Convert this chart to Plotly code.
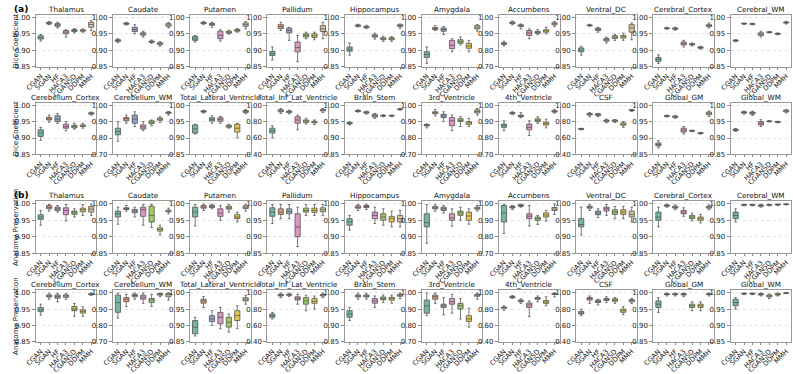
import plotly.graph_objects as go

METHODS = ["CGAN", "SGAN", "HF", "HACA3", "CGANSD", "DDPM", "MMH"]
COLORS = ["#72b7a1", "#e99675", "#95a3c3", "#dc96c1", "#a2c864", "#e5c849", "#dbc29e"]

REGIONS = ["Thalamus", "Caudate", "Putamen", "Pallidum", "Hippocampus", "Amygdala",
           "Accumbens", "Ventral_DC", "Cerebral_Cortex", "Cerebral_WM",
           "Cerebellum_Cortex", "Cerebellum_WM", "Total_Lateral_Ventricle",
           "Total_Inf_Lat_Ventricle", "Brain_Stem", "3rd_Ventricle", "4th_Ventricle",
           "CSF", "Global_GM", "Global_WM"]

# ---- (a) Dice Coefficient ----
dice_ymin = {"Accumbens": 0.70, "Cerebellum_WM": 0.70, "Total_Inf_Lat_Ventricle": 0.40,
             "3rd_Ventricle": 0.70, "4th_Ventricle": 0.70, "CSF": 0.40}

dice_med = {
    "Thalamus": [.938, .983, .977, .955, .960, .960, .978],
    "Caudate": [.930, .981, .963, .950, .926, .920, .977],
    "Putamen": [.935, .983, .979, .945, .955, .961, .978],
    "Pallidum": [.890, .972, .960, .908, .945, .944, .965],
    "Hippocampus": [.903, .975, .971, .944, .935, .935, .975],
    "Amygdala": [.887, .966, .963, .915, .926, .913, .970],
    "Accumbens": [.840, .967, .950, .905, .910, .917, .962],
    "Ventral_DC": [.900, .976, .964, .932, .940, .941, .968],
    "Cerebral_Cortex": [.872, .967, .966, .920, .918, .908, .975],
    "Cerebral_WM": [.929, .981, .980, .949, .955, .950, .984],
    "Cerebellum_Cortex": [.915, .958, .958, .935, .935, .937, .975],
    "Cerebellum_WM": [.840, .918, .915, .868, .897, .915, .955],
    "Total_Lateral_Ventricle": [.928, .981, .957, .957, .936, .930, .981],
    "Total_Inf_Lat_Ventricle": [.690, .934, .920, .820, .810, .795, .940],
    "Brain_Stem": [.945, .982, .978, .968, .968, .968, .988],
    "3rd_Ventricle": [.878, .955, .935, .905, .908, .893, .962],
    "4th_Ventricle": [.875, .952, .935, .865, .908, .888, .962],
    "CSF": [.710, .890, .885, .810, .810, .770, .940],
    "Global_GM": [.880, .967, .965, .924, .922, .915, .975],
    "Global_WM": [.925, .978, .976, .945, .951, .949, .982],
}
dice_q1 = {
    "Thalamus": [.934, .980, .973, .950, .957, .958, .970],
    "Caudate": [.927, .979, .957, .946, .924, .917, .973],
    "Putamen": [.930, .981, .976, .935, .952, .958, .973],
    "Pallidum": [.884, .966, .953, .895, .940, .939, .957],
    "Hippocampus": [.897, .973, .969, .940, .932, .932, .972],
    "Amygdala": [.878, .963, .958, .905, .921, .906, .965],
    "Accumbens": [.835, .962, .945, .890, .903, .910, .955],
    "Ventral_DC": [.895, .975, .960, .928, .936, .937, .955],
    "Cerebral_Cortex": [.866, .966, .964, .916, .916, .906, .972],
    "Cerebral_WM": [.928, .980, .979, .945, .954, .949, .983],
    "Cerebellum_Cortex": [.905, .955, .950, .930, .931, .935, .973],
    "Cerebellum_WM": [.820, .905, .890, .855, .887, .908, .950],
    "Total_Lateral_Ventricle": [.915, .979, .952, .951, .933, .918, .978],
    "Total_Inf_Lat_Ventricle": [.660, .920, .910, .780, .790, .785, .930],
    "Brain_Stem": [.943, .981, .976, .964, .967, .967, .987],
    "3rd_Ventricle": [.874, .948, .925, .875, .900, .883, .953],
    "4th_Ventricle": [.865, .948, .930, .850, .900, .879, .958],
    "CSF": [.705, .880, .875, .800, .800, .755, .935],
    "Global_GM": [.876, .966, .963, .918, .921, .914, .971],
    "Global_WM": [.923, .976, .973, .940, .950, .948, .980],
}
dice_q3 = {
    "Thalamus": [.944, .985, .981, .960, .963, .962, .985],
    "Caudate": [.932, .983, .970, .953, .928, .923, .981],
    "Putamen": [.942, .985, .982, .958, .958, .963, .983],
    "Pallidum": [.896, .978, .967, .925, .950, .950, .975],
    "Hippocampus": [.910, .977, .973, .947, .938, .938, .978],
    "Amygdala": [.895, .969, .968, .930, .932, .921, .975],
    "Accumbens": [.846, .972, .955, .920, .915, .925, .967],
    "Ventral_DC": [.907, .977, .967, .936, .944, .945, .978],
    "Cerebral_Cortex": [.878, .968, .968, .925, .920, .910, .978],
    "Cerebral_WM": [.931, .982, .981, .953, .956, .951, .986],
    "Cerebellum_Cortex": [.925, .963, .968, .942, .939, .940, .977],
    "Cerebellum_WM": [.860, .925, .940, .880, .905, .922, .958],
    "Total_Lateral_Ventricle": [.940, .983, .962, .962, .939, .942, .984],
    "Total_Inf_Lat_Ventricle": [.720, .945, .930, .860, .820, .805, .950],
    "Brain_Stem": [.947, .984, .980, .972, .969, .969, .989],
    "3rd_Ventricle": [.882, .960, .945, .925, .918, .900, .972],
    "4th_Ventricle": [.885, .956, .940, .885, .917, .897, .967],
    "CSF": [.715, .900, .895, .820, .820, .785, .945],
    "Global_GM": [.885, .968, .967, .930, .923, .916, .979],
    "Global_WM": [.927, .980, .979, .950, .952, .950, .985],
}
dice_lo = {
    "Thalamus": [.928, .978, .968, .940, .953, .955, .960],
    "Caudate": [.923, .977, .950, .940, .921, .912, .968],
    "Putamen": [.925, .979, .970, .928, .949, .955, .965],
    "Pallidum": [.870, .960, .930, .865, .935, .932, .935],
    "Hippocampus": [.885, .971, .966, .934, .927, .927, .967],
    "Amygdala": [.860, .960, .948, .895, .916, .895, .958],
    "Accumbens": [.825, .955, .930, .870, .895, .900, .945],
    "Ventral_DC": [.885, .973, .955, .922, .930, .930, .932],
    "Cerebral_Cortex": [.860, .964, .961, .910, .913, .903, .968],
    "Cerebral_WM": [.926, .979, .977, .940, .953, .947, .980],
    "Cerebellum_Cortex": [.893, .948, .945, .922, .927, .930, .970],
    "Cerebellum_WM": [.780, .890, .870, .845, .875, .895, .940],
    "Total_Lateral_Ventricle": [.912, .976, .945, .945, .930, .900, .974],
    "Total_Inf_Lat_Ventricle": [.600, .900, .895, .700, .770, .765, .910],
    "Brain_Stem": [.940, .979, .973, .960, .965, .965, .985],
    "3rd_Ventricle": [.862, .935, .900, .845, .870, .870, .940],
    "4th_Ventricle": [.845, .942, .925, .815, .890, .862, .952],
    "CSF": [.700, .860, .860, .785, .790, .730, .925],
    "Global_GM": [.870, .964, .960, .912, .919, .912, .966],
    "Global_WM": [.920, .973, .969, .935, .949, .946, .977],
}
dice_hi = {
    "Thalamus": [.948, .988, .985, .962, .966, .965, .990],
    "Caudate": [.935, .985, .978, .958, .931, .926, .984],
    "Putamen": [.945, .987, .985, .962, .961, .966, .988],
    "Pallidum": [.910, .985, .970, .945, .955, .955, .985],
    "Hippocampus": [.922, .979, .976, .952, .943, .942, .980],
    "Amygdala": [.910, .975, .972, .935, .940, .930, .978],
    "Accumbens": [.855, .978, .960, .930, .925, .940, .975],
    "Ventral_DC": [.912, .979, .970, .940, .948, .952, .983],
    "Cerebral_Cortex": [.886, .970, .970, .930, .922, .912, .983],
    "Cerebral_WM": [.932, .983, .982, .958, .957, .953, .988],
    "Cerebellum_Cortex": [.932, .970, .975, .950, .945, .945, .979],
    "Cerebellum_WM": [.900, .940, .960, .900, .910, .930, .962],
    "Total_Lateral_Ventricle": [.942, .985, .968, .966, .942, .945, .987],
    "Total_Inf_Lat_Ventricle": [.750, .960, .940, .880, .840, .820, .960],
    "Brain_Stem": [.950, .986, .982, .975, .971, .970, .990],
    "3rd_Ventricle": [.886, .975, .960, .940, .930, .920, .980],
    "4th_Ventricle": [.905, .960, .955, .905, .930, .915, .975],
    "CSF": [.720, .910, .900, .830, .825, .800, .950],
    "Global_GM": [.892, .970, .968, .935, .924, .917, .982],
    "Global_WM": [.929, .982, .982, .956, .953, .951, .987],
}

# ---- (b) Anatomy Preservation ----
anat_ymin = {"Accumbens": 0.70, "Cerebellum_WM": 0.70, "Total_Inf_Lat_Ventricle": 0.40,
             "3rd_Ventricle": 0.70, "4th_Ventricle": 0.40, "CSF": 0.40}

anat_med = {
    "Thalamus": [.960, .989, .985, .980, .973, .982, .984],
    "Caudate": [.970, .986, .978, .982, .965, .922, .978],
    "Putamen": [.975, .990, .992, .972, .988, .960, .990],
    "Pallidum": [.975, .975, .977, .930, .980, .980, .982],
    "Hippocampus": [.945, .990, .992, .965, .960, .955, .955],
    "Amygdala": [.943, .988, .985, .957, .972, .963, .987],
    "Accumbens": [.945, .980, .990, .925, .910, .932, .968],
    "Ventral_DC": [.937, .990, .972, .985, .975, .975, .968],
    "Cerebral_Cortex": [.960, .995, .990, .975, .960, .955, .990],
    "Cerebral_WM": [.965, .997, .997, .995, .997, .998, .999],
    "Cerebellum_Cortex": [.948, .990, .988, .990, .950, .943, .995],
    "Cerebellum_WM": [.940, .960, .983, .972, .955, .990, .987],
    "Total_Lateral_Ventricle": [.895, .975, .920, .925, .910, .930, .980],
    "Total_Inf_Lat_Ventricle": [.720, .970, .975, .930, .900, .895, .970],
    "Brain_Stem": [.935, .990, .990, .975, .982, .982, .992],
    "3rd_Ventricle": [.920, .975, .920, .945, .920, .840, .985],
    "4th_Ventricle": [.820, .950, .900, .850, .930, .885, .985],
    "CSF": [.750, .930, .890, .920, .910, .780, .900],
    "Global_GM": [.965, .995, .995, .995, .960, .960, .995],
    "Global_WM": [.970, .997, .997, .995, .990, .995, .999],
}
anat_q1 = {
    "Thalamus": [.953, .985, .980, .967, .968, .976, .975],
    "Caudate": [.960, .983, .973, .962, .945, .917, .976],
    "Putamen": [.960, .987, .989, .962, .984, .955, .986],
    "Pallidum": [.962, .968, .970, .900, .975, .974, .976],
    "Hippocampus": [.935, .987, .989, .955, .950, .945, .945],
    "Amygdala": [.930, .985, .980, .950, .965, .950, .984],
    "Accumbens": [.890, .975, .985, .910, .900, .920, .960],
    "Ventral_DC": [.930, .987, .967, .978, .968, .968, .960],
    "Cerebral_Cortex": [.950, .993, .987, .970, .955, .950, .987],
    "Cerebral_WM": [.955, .996, .996, .993, .996, .997, .998],
    "Cerebellum_Cortex": [.942, .987, .983, .986, .945, .938, .994],
    "Cerebellum_WM": [.880, .945, .975, .960, .940, .985, .975],
    "Total_Lateral_Ventricle": [.875, .968, .912, .905, .895, .915, .975],
    "Total_Inf_Lat_Ventricle": [.700, .960, .968, .910, .860, .870, .960],
    "Brain_Stem": [.925, .987, .987, .968, .978, .977, .989],
    "3rd_Ventricle": [.875, .960, .910, .930, .900, .825, .978],
    "4th_Ventricle": [.810, .940, .890, .820, .920, .870, .978],
    "CSF": [.740, .910, .880, .905, .895, .760, .890],
    "Global_GM": [.955, .994, .994, .993, .955, .955, .994],
    "Global_WM": [.960, .996, .996, .993, .987, .993, .998],
}
anat_q3 = {
    "Thalamus": [.967, .995, .990, .988, .978, .987, .992],
    "Caudate": [.978, .988, .983, .990, .993, .927, .981],
    "Putamen": [.990, .995, .996, .985, .993, .967, .994],
    "Pallidum": [.988, .985, .985, .970, .987, .987, .988],
    "Hippocampus": [.955, .994, .995, .975, .970, .962, .965],
    "Amygdala": [.970, .992, .990, .970, .978, .975, .990],
    "Accumbens": [.990, .985, .995, .940, .920, .945, .978],
    "Ventral_DC": [.955, .993, .978, .990, .982, .982, .978],
    "Cerebral_Cortex": [.975, .997, .993, .980, .965, .960, .993],
    "Cerebral_WM": [.975, .998, .998, .997, .998, .999, .9995],
    "Cerebellum_Cortex": [.955, .993, .993, .993, .958, .948, .997],
    "Cerebellum_WM": [.985, .970, .990, .985, .965, .995, .995],
    "Total_Lateral_Ventricle": [.915, .980, .930, .940, .925, .945, .985],
    "Total_Inf_Lat_Ventricle": [.740, .980, .982, .950, .940, .930, .980],
    "Brain_Stem": [.945, .993, .993, .982, .987, .986, .995],
    "3rd_Ventricle": [.955, .985, .930, .965, .935, .860, .990],
    "4th_Ventricle": [.825, .955, .910, .875, .940, .905, .990],
    "CSF": [.770, .940, .910, .930, .925, .800, .915],
    "Global_GM": [.975, .997, .997, .997, .965, .965, .997],
    "Global_WM": [.980, .998, .998, .997, .993, .997, .9995],
}
anat_lo = {
    "Thalamus": [.935, .978, .975, .948, .960, .965, .965],
    "Caudate": [.938, .978, .960, .935, .928, .905, .970],
    "Putamen": [.933, .980, .985, .950, .975, .945, .978],
    "Pallidum": [.940, .955, .955, .870, .965, .965, .965],
    "Hippocampus": [.920, .980, .983, .940, .935, .930, .930],
    "Amygdala": [.880, .978, .972, .932, .950, .938, .978],
    "Accumbens": [.820, .965, .980, .865, .875, .895, .935],
    "Ventral_DC": [.905, .980, .958, .965, .955, .955, .945],
    "Cerebral_Cortex": [.930, .990, .982, .962, .948, .942, .982],
    "Cerebral_WM": [.945, .994, .994, .990, .994, .995, .997],
    "Cerebellum_Cortex": [.932, .980, .972, .980, .928, .928, .992],
    "Cerebellum_WM": [.845, .915, .960, .935, .915, .975, .955],
    "Total_Lateral_Ventricle": [.868, .955, .900, .890, .880, .890, .965],
    "Total_Inf_Lat_Ventricle": [.680, .940, .955, .860, .780, .800, .940],
    "Brain_Stem": [.915, .980, .980, .955, .970, .968, .982],
    "3rd_Ventricle": [.860, .935, .865, .875, .840, .790, .960],
    "4th_Ventricle": [.785, .930, .870, .710, .890, .840, .950],
    "CSF": [.720, .870, .850, .880, .870, .730, .870],
    "Global_GM": [.940, .990, .990, .988, .945, .945, .990],
    "Global_WM": [.950, .994, .994, .990, .982, .990, .997],
}
anat_hi = {
    "Thalamus": [.980, .998, .995, .998, .985, .998, .999],
    "Caudate": [.990, .995, .990, .998, .998, .935, .987],
    "Putamen": [.998, .999, .999, .995, .998, .975, .999],
    "Pallidum": [.998, .998, .998, .990, .998, .998, .998],
    "Hippocampus": [.965, .998, .999, .990, .985, .978, .980],
    "Amygdala": [.998, .998, .995, .985, .990, .985, .995],
    "Accumbens": [.998, .990, .998, .990, .930, .960, .998],
    "Ventral_DC": [.990, .998, .985, .998, .992, .992, .990],
    "Cerebral_Cortex": [.990, .999, .997, .988, .972, .968, .997],
    "Cerebral_WM": [.985, .999, .999, .999, .999, .9995, 1.0],
    "Cerebellum_Cortex": [.965, .998, .998, .997, .967, .957, .999],
    "Cerebellum_WM": [.998, .990, .998, .998, .990, .998, .999],
    "Total_Lateral_Ventricle": [.925, .988, .945, .955, .935, .960, .992],
    "Total_Inf_Lat_Ventricle": [.760, .995, .995, .980, .970, .960, .995],
    "Brain_Stem": [.955, .998, .998, .990, .993, .993, .999],
    "3rd_Ventricle": [.998, .998, .970, .990, .965, .905, .998],
    "4th_Ventricle": [.840, .965, .925, .900, .960, .950, .998],
    "CSF": [.800, .960, .920, .950, .940, .830, .930],
    "Global_GM": [.985, .999, .999, .999, .972, .972, .999],
    "Global_WM": [.985, .999, .999, .999, .996, .999, 1.0],
}

W, H = 793, 374
col_left = [25 + 78.3 * c for c in range(10)]
panel_w = 61.5
row_top = [14, 103, 203, 293]
panel_h = 52.5

sections = [
    (dice_q1, dice_med, dice_q3, dice_lo, dice_hi, dice_ymin),
    (anat_q1, anat_med, anat_q3, anat_lo, anat_hi, anat_ymin),
]
ytitles = ["Dice Coefficient", "Anatomy Preservation"]

fig = go.Figure()
layout = {}
annotations = []
tick_font = dict(family="DejaVu Sans", size=7, color="#222")

for r in range(4):
    q1, med, q3, lo, hi, ymin = sections[r // 2]
    for c in range(10):
        k = r * 10 + c + 1
        reg = REGIONS[(r % 2) * 10 + c]
        xa = "x" if k == 1 else "x%d" % k
        ya = "y" if k == 1 else "y%d" % k
        for i, m in enumerate(METHODS):
            fig.add_trace(go.Box(
                x=[m], q1=[q1[reg][i]], median=[med[reg][i]], q3=[q3[reg][i]],
                lowerfence=[lo[reg][i]], upperfence=[hi[reg][i]],
                fillcolor=COLORS[i], line=dict(color="#555555", width=0.8),
                width=0.62, whiskerwidth=0.5, boxpoints=False,
                showlegend=False, xaxis=xa, yaxis=ya, hoverinfo="skip"))
        x0 = col_left[c] / W
        x1 = (col_left[c] + panel_w) / W
        y1 = 1 - row_top[r] / H
        y0 = 1 - (row_top[r] + panel_h) / H
        ym = ymin.get(reg, 0.85)
        step = {0.85: 0.05, 0.70: 0.10, 0.40: 0.20}[ym]
        tv = [round(ym + step * j, 2) for j in range(4)]
        layout["xaxis" if k == 1 else "xaxis%d" % k] = dict(
            domain=[x0, x1], anchor=ya, type="category",
            categoryorder="array", categoryarray=METHODS, range=[-0.6, 6.6],
            tickmode="array", tickvals=METHODS, ticktext=METHODS,
            tickangle=-45, tickfont=dict(family="DejaVu Sans", size=6.8, color="#222"),
            ticks="outside", ticklen=2, tickcolor="#888",
            showline=True, mirror=True, linecolor="#999", linewidth=1,
            showgrid=False, zeroline=False)
        layout["yaxis" if k == 1 else "yaxis%d" % k] = dict(
            domain=[y0, y1], anchor=xa,
            range=[ym, 1 + (1 - ym) * 0.053], tickvals=tv, tickformat=".2f",
            tickfont=tick_font, ticks="outside", ticklen=3, tickcolor="#888",
            showline=True, mirror=True, linecolor="#999", linewidth=1,
            showgrid=True, gridcolor="#e3e3e3", griddash="dot", gridwidth=0.8,
            zeroline=False)
        annotations.append(dict(
            text=reg, x=(col_left[c] + panel_w / 2) / W, y=y1, xref="paper", yref="paper",
            xanchor="center", yanchor="bottom", yshift=-1, showarrow=False,
            font=dict(family="DejaVu Sans", size=7.2, color="#111")))
    annotations.append(dict(
        text=ytitles[r // 2], x=5 / W, y=1 - (row_top[r] + panel_h / 2) / H,
        xref="paper", yref="paper", xanchor="center", yanchor="middle",
        textangle=-90, showarrow=False,
        font=dict(family="DejaVu Sans", size=7, color="#111")))

annotations.append(dict(text="<b>(a)</b>", x=1 / W, y=1 - 1 / H, xref="paper", yref="paper",
                        xanchor="left", yanchor="top", showarrow=False,
                        font=dict(family="DejaVu Sans", size=9, color="#000")))
annotations.append(dict(text="<b>(b)</b>", x=1 / W, y=1 - 190 / H, xref="paper", yref="paper",
                        xanchor="left", yanchor="top", showarrow=False,
                        font=dict(family="DejaVu Sans", size=9, color="#000")))

fig.update_layout(**layout)
fig.update_layout(
    width=W, height=H, margin=dict(l=0, r=0, t=0, b=0),
    paper_bgcolor="white", plot_bgcolor="white",
    annotations=annotations, boxmode="overlay")

fig.write_html("out.html", config={"displayModeBar": False},
               post_script="document.body.style.margin='0';")
